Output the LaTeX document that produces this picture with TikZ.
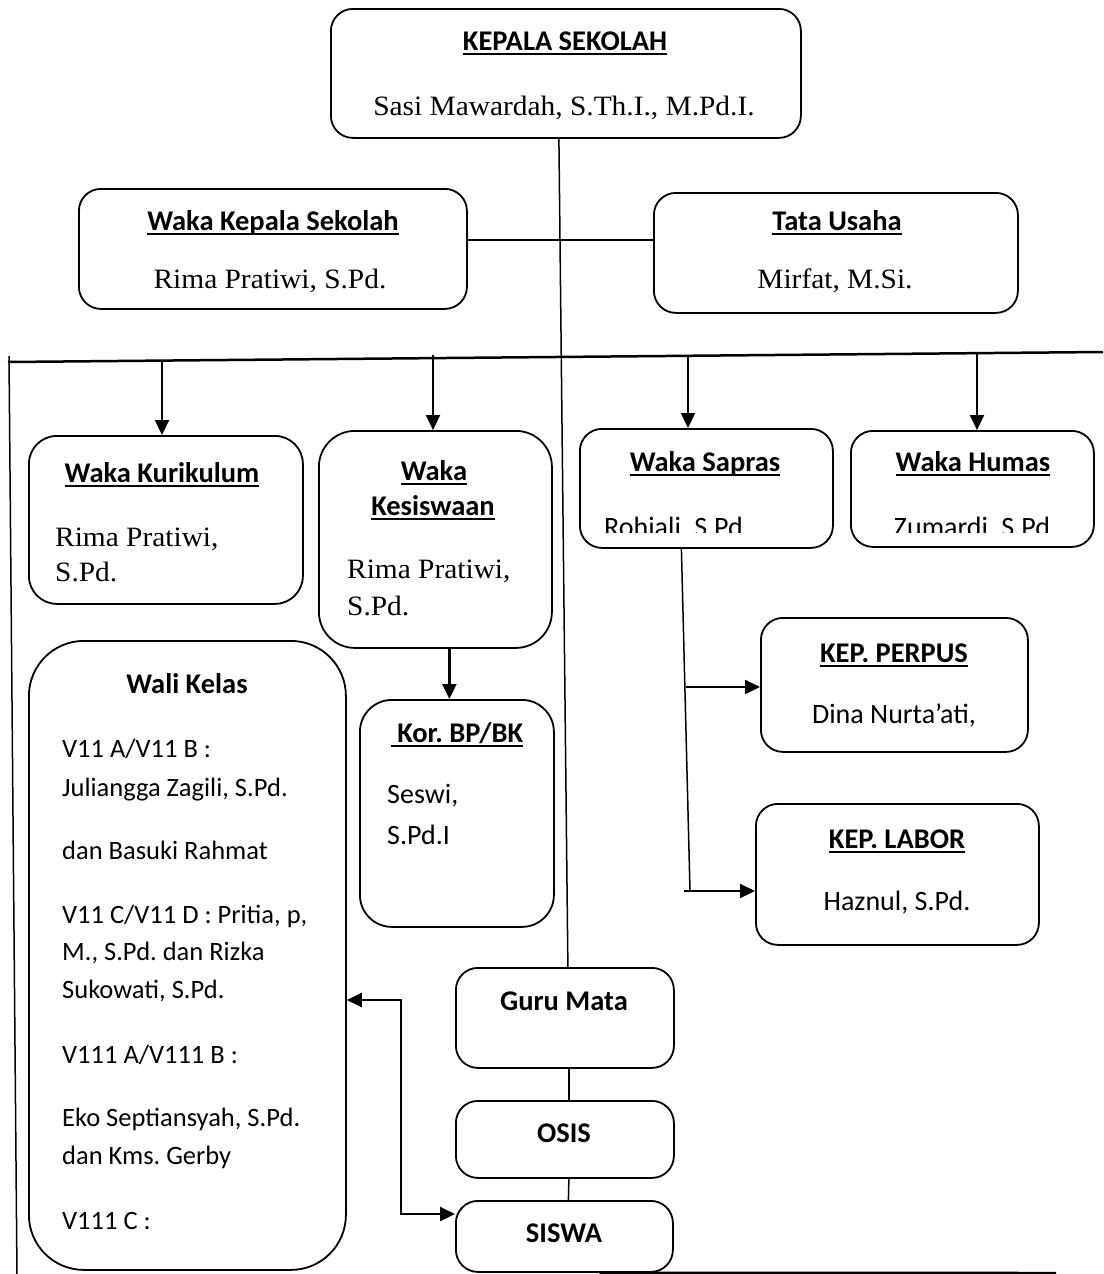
\documentclass[tikz,border=0pt]{standalone}
\usepackage{fontspec}
\usetikzlibrary{arrows.meta}
\newfontfamily\calfont{Carlito}
\newfontfamily\tnrfont[FakeStretch=1.05]{Liberation Serif}
\newcommand\ulbox[1]{\leavevmode\setbox0\hbox{#1}\rlap{\rule[-5pt]{\wd0}{2pt}}\box0}
\frenchspacing
\tikzset{
  box/.style={draw, line width=1.8pt, anchor=north west, inner sep=0pt, rounded corners=22pt},
  ttl/.style={inner sep=0pt, anchor=base, font=\calfont\bfseries\fontsize{28.5}{34}\selectfont},
  nm/.style={inner sep=0pt, anchor=base, font=\tnrfont\fontsize{28}{34}\selectfont},
  nml/.style={nm, anchor=base west},
  sans/.style={inner sep=0pt, anchor=base, font=\calfont\fontsize{28}{34}\selectfont},
  sansl/.style={sans, anchor=base west},
  wl/.style={inner sep=0pt, anchor=base west, font=\calfont\fontsize{26.5}{32}\selectfont},
  ln/.style={line width=1.5pt},
  arr/.style={line width=2.2pt, -{Triangle[length=15pt,width=14pt]}},
  arrb/.style={line width=2.2pt, {Triangle[length=15pt,width=14pt]}-{Triangle[length=15pt,width=14pt]}}
}
\begin{document}
\begin{tikzpicture}[x=1pt,y=-1pt]
\useasboundingbox (0,0) rectangle (1103,1274);
% boxes
\node[box, minimum width=470pt, minimum height=129pt] (kepala) at (330,8) {};
\node[box, minimum width=388pt, minimum height=120pt] (waka) at (78,188) {};
\node[box, minimum width=364pt, minimum height=120pt] (tata) at (653,192) {};
\node[box, rounded corners=28pt, minimum width=274pt, minimum height=168pt] (kur) at (28,435) {};
\node[box, rounded corners=36pt, minimum width=233pt, minimum height=217pt] (kes) at (318,430) {};
\node[box, minimum width=253pt, minimum height=119pt] (sap) at (579,428) {};
\node[box, minimum width=243pt, minimum height=116pt] (hum) at (850,430) {};
\node[box, rounded corners=55pt, minimum width=317pt, minimum height=629pt] (wali) at (28,640) {};
\node[box, rounded corners=32pt, minimum width=194pt, minimum height=227pt] (bk) at (359,699) {};
\node[box, minimum width=267pt, minimum height=134pt] (perp) at (760,617) {};
\node[box, minimum width=283pt, minimum height=141pt] (lab) at (755,803) {};
\node[box, minimum width=218pt, minimum height=100pt] (guru) at (455,967) {};
\node[box, minimum width=218pt, minimum height=77pt] (osis) at (455,1100) {};
\node[box, minimum width=217pt, minimum height=71pt] (siswa) at (455,1200) {};
% texts
\node[ttl] (kepalaT) at (565,50) {\ulbox{KEPALA SEKOLAH}};
\node[nm] (kepalaN) at (564,115) {Sasi Mawardah, S.Th.I., M.Pd.I.};
\node[ttl] (wakaT) at (273,230) {\ulbox{Waka Kepala Sekolah}};
\begin{scope}
\clip (80,250) rectangle (460,291);
\node[nm] (wakaN) at (270,288) {Rima Pratiwi, S.Pd.};
\end{scope}
\node[ttl] (tataT) at (837,230) {\ulbox{Tata Usaha}};
\begin{scope}
\clip (660,250) rectangle (1010,291);
\node[nm] (tataN) at (835,288) {Mirfat, M.Si.};
\end{scope}
\node[ttl] (kurT) at (162,482) {\ulbox{Waka Kurikulum}};
\node[nml] (kurN1) at (55,546) {Rima Pratiwi,};
\node[nml] (kurN2) at (55,581) {S.Pd.};
\node[ttl] (kesT1) at (434,480) {\ulbox{Waka}};
\node[ttl] (kesT2) at (433,515) {\ulbox{Kesiswaan}};
\node[nml] (kesN1) at (347,578) {Rima Pratiwi,};
\node[nml] (kesN2) at (347,615) {S.Pd.};
\node[ttl] (sapT) at (705,471) {\ulbox{Waka Sapras}};
\begin{scope}
\clip (585,500) rectangle (825,532);
\node[sansl] (sapN) at (604,536) {Rohiali, S.Pd};
\end{scope}
\node[ttl] (humT) at (973,471) {\ulbox{Waka Humas}};
\begin{scope}
\clip (855,500) rectangle (1088,532);
\node[sans] (humN) at (972,536) {Zumardi, S.Pd};
\end{scope}
\node[ttl] (perpT) at (894,662) {\ulbox{KEP. PERPUS}};
\node[sans] (perpN) at (894,723) {Dina Nurta’ati,};
\node[ttl] (labT) at (897,848) {\ulbox{KEP. LABOR}};
\node[sans] (labN) at (897,910) {Haznul, S.Pd.};
\node[ttl] (bkT) at (457,742) {\ulbox{\ Kor. BP/BK}};
\node[sansl] (bkN1) at (387,803) {Seswi,};
\node[sansl] (bkN2) at (387,844) {S.Pd.I};
\node[ttl] (waliT) at (187,693) {Wali Kelas};
\node[wl] (w1) at (62,757) {V11 A/V11 B :};
\node[wl] (w2) at (62,796) {Juliangga Zagili, S.Pd.};
\node[wl] (w3) at (62,859) {dan Basuki Rahmat};
\node[wl] (w4) at (62,923) {V11 C/V11 D : Pritia, p,};
\node[wl] (w5) at (62,960) {M., S.Pd. dan Rizka};
\node[wl] (w6) at (62,998) {Sukowati, S.Pd.};
\node[wl] (w7) at (62,1063) {V111 A/V111 B :};
\node[wl] (w8) at (62,1126) {Eko Septiansyah, S.Pd.};
\node[wl] (w9) at (62,1164) {dan Kms. Gerby};
\node[wl] (w10) at (62,1229) {V111 C :};
\node[ttl] (guruT) at (564,1010) {Guru Mata};
\node[ttl] (osisT) at (564,1142) {OSIS};
\node[ttl] (siswaT) at (564,1242) {SISWA};
% connectors
\draw[ln] ([xshift=-7pt]kepala.south) -- ([xshift=3pt]guru.north);
\draw[ln] ([yshift=9pt]waka.east) -- ([yshift=13pt]tata.west);
\coordinate (lineL) at (8,362);
\coordinate (lineR) at (1103,352);
\draw[line width=2.5pt] (lineL) -- (lineR);
\coordinate (vt) at (9,356);
\coordinate (vb) at (17,1276);
\draw[ln] (vt) -- (vb);
\coordinate (a1) at (162,361);
\coordinate (a2) at (433,355);
\coordinate (a3) at (688,357);
\coordinate (a4) at (977,354);
\draw[arr] (a1) -- (a1 |- kur.north);
\draw[arr] (a2) -- (a2 |- kes.north);
\draw[arr] (a3) -- (a3 |- sap.north);
\draw[arr] (a4) -- (a4 |- hum.north);
\coordinate (sb) at (690,891);
\draw[ln] ([xshift=-25pt]sap.south) -- (sb);
\coordinate (p1) at (686,687);
\coordinate (p2) at (684,891);
\draw[arr] (p1) -- (p1 -| perp.west);
\draw[arr] (p2) -- (p2 -| lab.west);
\coordinate (k1) at ([xshift=14pt]kes.south);
\draw[arr] (k1) -- (k1 |- bk.north);
\draw[ln] ([xshift=4pt]guru.south) -- ([xshift=4pt]osis.north);
\draw[ln] ([xshift=4pt]osis.south) -- ([xshift=4pt]siswa.north);
\coordinate (d1) at (401,1000);
\coordinate (d2) at (401,1214);
\draw[arrb] (d1 -| wali.east) -- (d1) -- (d2) -- (d2 -| siswa.west);
\coordinate (bl) at (1056,1273);
\draw[line width=2.5pt] ([xshift=35pt]siswa.south) -- (bl);
\end{tikzpicture}
\end{document}
